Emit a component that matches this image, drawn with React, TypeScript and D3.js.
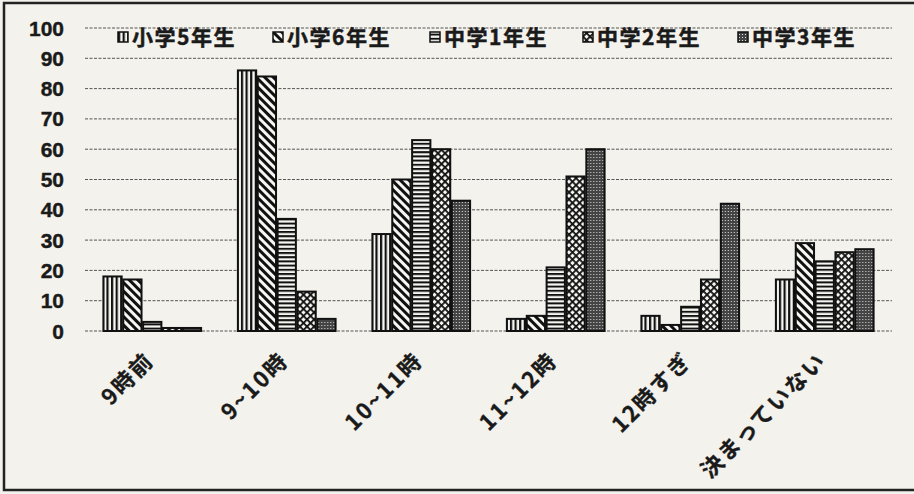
import * as d3 from "d3";

const categories = ["9時前", "9~10時", "10~11時", "11~12時", "12時すぎ", "決まっていない"];
const seriesNames = ["小学5年生", "小学6年生", "中学1年生", "中学2年生", "中学3年生"];
const grade5 = [18, 86, 32, 4, 5, 17];
const grade6 = [17, 84, 50, 5, 2, 29];
const jh1 = [3, 37, 63, 21, 8, 23];
const jh2 = [1, 13, 60, 51, 17, 26];
const jh3 = [1, 4, 43, 60, 42, 27];
const yTicks = [0, 10, 20, 30, 40, 50, 60, 70, 80, 90, 100];

const series = [grade5, grade6, jh1, jh2, jh3];
const patternIds = ["pVert", "pDiag", "pHoriz", "pCross", "pDots"];

const W = 914;
const H = 494;
const plot = { left: 85, right: 892, top: 28, bottom: 331 };

export default function App() {
  const x = d3.scaleBand<string>()
    .domain(categories)
    .range([plot.left, plot.right])
    .paddingInner(0.25)
    .paddingOuter(0.125);
  const xs = d3.scaleBand<string>()
    .domain(seriesNames)
    .range([0, x.bandwidth()])
    .padding(0.08);
  const y = d3.scaleLinear().domain([0, 100]).range([plot.bottom, plot.top]);

  const legendX = [118, 273, 430, 583, 738];

  return (
    <svg
      width={W}
      height={H}
      style={{ position: "absolute", left: 0, top: 0, display: "block" }}
    >
      <defs>
        <pattern id="pVert" width="4.6" height="4" patternUnits="userSpaceOnUse">
          <rect width="4.6" height="4" fill="#f6f6f2" />
          <rect x="0" width="2.2" height="4" fill="#111" />
        </pattern>
        <pattern id="pDiag" width="6" height="6" patternUnits="userSpaceOnUse" patternTransform="rotate(-45)">
          <rect width="6" height="6" fill="#f6f6f2" />
          <rect x="0" width="3" height="6" fill="#111" />
        </pattern>
        <pattern id="pHoriz" width="4" height="4.2" patternUnits="userSpaceOnUse">
          <rect width="4" height="4.2" fill="#f6f6f2" />
          <rect y="0" width="4" height="2" fill="#111" />
        </pattern>
        <pattern id="pCross" width="5" height="5" patternUnits="userSpaceOnUse" patternTransform="rotate(45)">
          <rect width="5" height="5" fill="#f6f6f2" />
          <rect x="0" width="1.8" height="5" fill="#111" />
          <rect y="0" width="5" height="1.8" fill="#111" />
        </pattern>
        <pattern id="pDots" width="3" height="3" patternUnits="userSpaceOnUse">
          <rect width="3" height="3" fill="#444" />
          <rect x="1" y="1" width="1" height="1" fill="#ddd" />
        </pattern>
      </defs>

      <rect x={0} y={0} width={W} height={H} fill="#f3f2ec" />
      <rect x={4} y={3} width={W + 4} height={487} fill="none" stroke="#222" strokeWidth={2.5} />

      {yTicks.map((t) => (
        <g key={t}>
          <line
            x1={plot.left}
            x2={plot.right}
            y1={y(t)}
            y2={y(t)}
            stroke="#555"
            strokeWidth={1}
            strokeDasharray="3 1.5"
          />
          <text
            x={64}
            y={y(t)}
            dy="0.36em"
            textAnchor="end"
            fontFamily="'Liberation Sans', Arial, sans-serif"
            fontWeight={700}
            fontSize={21}
            fill="#1a1a1a"
            stroke="#1a1a1a"
            strokeWidth={0.4}
          >
            {t}
          </text>
        </g>
      ))}

      {categories.map((c, ci) => (
        <g key={c} transform={`translate(${x(c)},0)`}>
          {series.map((vals, si) => (
            <rect
              key={si}
              x={xs(seriesNames[si])!}
              y={y(vals[ci])}
              width={xs.bandwidth()}
              height={y(0) - y(vals[ci])}
              fill={`url(#${patternIds[si]})`}
              stroke="#111"
              strokeWidth={2}
            />
          ))}
        </g>
      ))}

      {categories.map((c) => {
        const cx = x(c)! + x.bandwidth() / 2 + 3;
        return (
          <text
            key={c}
            transform={`translate(${cx},362) rotate(-45)`}
            textAnchor="end"
            fontFamily="'Noto Sans CJK JP', sans-serif"
            fontWeight={700}
            fontSize={22}
            letterSpacing={2}
            fill="#1a1a1a"
            stroke="#1a1a1a"
            strokeWidth={0.3}
          >
            {c}
          </text>
        );
      })}

      {seriesNames.map((s, si) => (
        <g key={s} transform={`translate(${legendX[si]},0)`}>
          <rect
            x={0}
            y={32}
            width={10}
            height={10}
            fill={`url(#${patternIds[si]})`}
            stroke="#111"
            strokeWidth={1.5}
          />
          <text
            x={14}
            y={45}
            fontFamily="'Noto Sans CJK JP', sans-serif"
            fontWeight={700}
            fontSize={21}
            letterSpacing={1.5}
            fill="#1a1a1a"
            stroke="#1a1a1a"
            strokeWidth={0.5}
          >
            {s}
          </text>
        </g>
      ))}
    </svg>
  );
}
